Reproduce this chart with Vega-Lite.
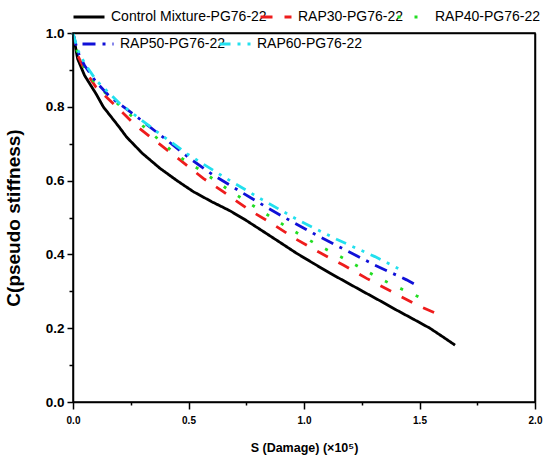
{
  "$schema": "https://vega.github.io/schema/vega-lite/v6.json",
  "width": 462,
  "height": 369,
  "autosize": "none",
  "padding": {"left": 73, "top": 33, "right": 15, "bottom": 57},
  "background": "white",
  "config": {"font": "Liberation Sans"},
  "data": {
    "values": [
      {"mix": "Control Mixture-PG76-22", "s": 0, "c": 1},
      {"mix": "Control Mixture-PG76-22", "s": 0.02, "c": 0.93},
      {"mix": "Control Mixture-PG76-22", "s": 0.05, "c": 0.885},
      {"mix": "Control Mixture-PG76-22", "s": 0.1, "c": 0.835},
      {"mix": "Control Mixture-PG76-22", "s": 0.131, "c": 0.8},
      {"mix": "Control Mixture-PG76-22", "s": 0.2, "c": 0.745},
      {"mix": "Control Mixture-PG76-22", "s": 0.232, "c": 0.718},
      {"mix": "Control Mixture-PG76-22", "s": 0.3, "c": 0.674},
      {"mix": "Control Mixture-PG76-22", "s": 0.377, "c": 0.633},
      {"mix": "Control Mixture-PG76-22", "s": 0.45, "c": 0.6},
      {"mix": "Control Mixture-PG76-22", "s": 0.521, "c": 0.57},
      {"mix": "Control Mixture-PG76-22", "s": 0.6, "c": 0.543},
      {"mix": "Control Mixture-PG76-22", "s": 0.68, "c": 0.518},
      {"mix": "Control Mixture-PG76-22", "s": 0.75, "c": 0.492},
      {"mix": "Control Mixture-PG76-22", "s": 0.824, "c": 0.462},
      {"mix": "Control Mixture-PG76-22", "s": 0.9, "c": 0.431},
      {"mix": "Control Mixture-PG76-22", "s": 0.968, "c": 0.403},
      {"mix": "Control Mixture-PG76-22", "s": 1.04, "c": 0.376},
      {"mix": "Control Mixture-PG76-22", "s": 1.113, "c": 0.349},
      {"mix": "Control Mixture-PG76-22", "s": 1.185, "c": 0.324},
      {"mix": "Control Mixture-PG76-22", "s": 1.257, "c": 0.299},
      {"mix": "Control Mixture-PG76-22", "s": 1.33, "c": 0.274},
      {"mix": "Control Mixture-PG76-22", "s": 1.401, "c": 0.249},
      {"mix": "Control Mixture-PG76-22", "s": 1.475, "c": 0.224},
      {"mix": "Control Mixture-PG76-22", "s": 1.545, "c": 0.2},
      {"mix": "Control Mixture-PG76-22", "s": 1.6, "c": 0.177},
      {"mix": "Control Mixture-PG76-22", "s": 1.654, "c": 0.154},

      {"mix": "RAP30-PG76-22", "s": 0, "c": 1},
      {"mix": "RAP30-PG76-22", "s": 0.02, "c": 0.94},
      {"mix": "RAP30-PG76-22", "s": 0.05, "c": 0.9},
      {"mix": "RAP30-PG76-22", "s": 0.1, "c": 0.853},
      {"mix": "RAP30-PG76-22", "s": 0.189, "c": 0.8},
      {"mix": "RAP30-PG76-22", "s": 0.27, "c": 0.75},
      {"mix": "RAP30-PG76-22", "s": 0.362, "c": 0.705},
      {"mix": "RAP30-PG76-22", "s": 0.463, "c": 0.656},
      {"mix": "RAP30-PG76-22", "s": 0.564, "c": 0.606},
      {"mix": "RAP30-PG76-22", "s": 0.65, "c": 0.57},
      {"mix": "RAP30-PG76-22", "s": 0.759, "c": 0.522},
      {"mix": "RAP30-PG76-22", "s": 0.86, "c": 0.484},
      {"mix": "RAP30-PG76-22", "s": 0.961, "c": 0.443},
      {"mix": "RAP30-PG76-22", "s": 1.062, "c": 0.407},
      {"mix": "RAP30-PG76-22", "s": 1.17, "c": 0.371},
      {"mix": "RAP30-PG76-22", "s": 1.271, "c": 0.335},
      {"mix": "RAP30-PG76-22", "s": 1.38, "c": 0.299},
      {"mix": "RAP30-PG76-22", "s": 1.488, "c": 0.263},
      {"mix": "RAP30-PG76-22", "s": 1.579, "c": 0.238},

      {"mix": "RAP40-PG76-22", "s": 0, "c": 1},
      {"mix": "RAP40-PG76-22", "s": 0.02, "c": 0.945},
      {"mix": "RAP40-PG76-22", "s": 0.05, "c": 0.905},
      {"mix": "RAP40-PG76-22", "s": 0.1, "c": 0.86},
      {"mix": "RAP40-PG76-22", "s": 0.232, "c": 0.787},
      {"mix": "RAP40-PG76-22", "s": 0.29, "c": 0.755},
      {"mix": "RAP40-PG76-22", "s": 0.449, "c": 0.669},
      {"mix": "RAP40-PG76-22", "s": 0.55, "c": 0.629},
      {"mix": "RAP40-PG76-22", "s": 0.68, "c": 0.572},
      {"mix": "RAP40-PG76-22", "s": 0.745, "c": 0.546},
      {"mix": "RAP40-PG76-22", "s": 0.867, "c": 0.497},
      {"mix": "RAP40-PG76-22", "s": 0.932, "c": 0.472},
      {"mix": "RAP40-PG76-22", "s": 1.055, "c": 0.427},
      {"mix": "RAP40-PG76-22", "s": 1.185, "c": 0.385},
      {"mix": "RAP40-PG76-22", "s": 1.25, "c": 0.362},
      {"mix": "RAP40-PG76-22", "s": 1.31, "c": 0.341},
      {"mix": "RAP40-PG76-22", "s": 1.372, "c": 0.321},
      {"mix": "RAP40-PG76-22", "s": 1.437, "c": 0.302},
      {"mix": "RAP40-PG76-22", "s": 1.502, "c": 0.283},

      {"mix": "RAP50-PG76-22", "s": 0, "c": 1},
      {"mix": "RAP50-PG76-22", "s": 0.02, "c": 0.95},
      {"mix": "RAP50-PG76-22", "s": 0.05, "c": 0.912},
      {"mix": "RAP50-PG76-22", "s": 0.1, "c": 0.867},
      {"mix": "RAP50-PG76-22", "s": 0.16, "c": 0.827},
      {"mix": "RAP50-PG76-22", "s": 0.276, "c": 0.773},
      {"mix": "RAP50-PG76-22", "s": 0.377, "c": 0.724},
      {"mix": "RAP50-PG76-22", "s": 0.506, "c": 0.66},
      {"mix": "RAP50-PG76-22", "s": 0.607, "c": 0.615},
      {"mix": "RAP50-PG76-22", "s": 0.773, "c": 0.552},
      {"mix": "RAP50-PG76-22", "s": 0.846, "c": 0.525},
      {"mix": "RAP50-PG76-22", "s": 0.91, "c": 0.502},
      {"mix": "RAP50-PG76-22", "s": 1.04, "c": 0.457},
      {"mix": "RAP50-PG76-22", "s": 1.17, "c": 0.415},
      {"mix": "RAP50-PG76-22", "s": 1.307, "c": 0.371},
      {"mix": "RAP50-PG76-22", "s": 1.444, "c": 0.331},
      {"mix": "RAP50-PG76-22", "s": 1.476, "c": 0.32},

      {"mix": "RAP60-PG76-22", "s": 0, "c": 1},
      {"mix": "RAP60-PG76-22", "s": 0.02, "c": 0.955},
      {"mix": "RAP60-PG76-22", "s": 0.05, "c": 0.918},
      {"mix": "RAP60-PG76-22", "s": 0.1, "c": 0.872},
      {"mix": "RAP60-PG76-22", "s": 0.2, "c": 0.81},
      {"mix": "RAP60-PG76-22", "s": 0.362, "c": 0.733},
      {"mix": "RAP60-PG76-22", "s": 0.5, "c": 0.67},
      {"mix": "RAP60-PG76-22", "s": 0.65, "c": 0.611},
      {"mix": "RAP60-PG76-22", "s": 0.817, "c": 0.549},
      {"mix": "RAP60-PG76-22", "s": 0.975, "c": 0.493},
      {"mix": "RAP60-PG76-22", "s": 1.141, "c": 0.441},
      {"mix": "RAP60-PG76-22", "s": 1.307, "c": 0.394},
      {"mix": "RAP60-PG76-22", "s": 1.408, "c": 0.362}
    ]
  },
  "layer": [
    {
      "encoding": {
        "x": {
          "field": "s",
          "type": "quantitative",
          "scale": {"domain": [0, 2], "nice": false},
          "axis": {
            "orient": "bottom",
            "title": "S (Damage) (×10⁵)",
            "titleFont": "Liberation Sans",
            "titleFontSize": 12.5,
            "titleFontWeight": "bold",
            "titleColor": "black",
            "titlePadding": 16,
            "values": [0, 0.25, 0.5, 0.75, 1, 1.25, 1.5, 1.75, 2],
            "labelExpr": "round(datum.value * 4) % 2 === 0 ? format(datum.value, '.1f') : ''",
            "labelFont": "Liberation Sans",
            "labelFontSize": 10,
            "labelFontWeight": "bold",
            "labelColor": "black",
            "labelPadding": 6,
            "labelFlush": false,
            "grid": false,
            "domainColor": "black",
            "domainWidth": 1.5,
            "tickColor": "black",
            "tickWidth": 1.5,
            "tickSize": {"condition": {"test": "round(datum.value * 4) % 2 === 0", "value": 7}, "value": 3}
          }
        },
        "y": {
          "field": "c",
          "type": "quantitative",
          "scale": {"domain": [0, 1], "nice": false},
          "axis": {
            "orient": "left",
            "title": "C(pseudo stiffness)",
            "titleFont": "Liberation Sans",
            "titleFontSize": 19,
            "titleFontWeight": "bold",
            "titleColor": "black",
            "titlePadding": 22,
            "values": [0, 0.1, 0.2, 0.3, 0.4, 0.5, 0.6, 0.7, 0.8, 0.9, 1],
            "labelExpr": "round(datum.value * 10) % 2 === 0 ? format(datum.value, '.1f') : ''",
            "labelFont": "Liberation Sans",
            "labelFontSize": 13.5,
            "labelFontWeight": "bold",
            "labelColor": "black",
            "labelPadding": 3,
            "labelFlush": false,
            "grid": false,
            "domainColor": "black",
            "domainWidth": 1.5,
            "tickColor": "black",
            "tickWidth": 1.5,
            "tickSize": {"condition": {"test": "round(datum.value * 10) % 2 === 0", "value": 6}, "value": 4}
          }
        }
      },
      "layer": [
        {
          "transform": [{"filter": {"field": "mix", "oneOf": ["Control Mixture-PG76-22", "RAP30-PG76-22", "RAP40-PG76-22"]}}],
          "mark": {"type": "line", "strokeWidth": 2.8},
          "encoding": {
            "color": {
              "field": "mix",
              "type": "nominal",
              "scale": {
                "domain": ["Control Mixture-PG76-22", "RAP30-PG76-22", "RAP40-PG76-22"],
                "range": ["#000000", "#ee1c1c", "#22dd22"]
              },
              "legend": {
                "title": null, "orient": "none", "legendX": -1, "legendY": -33,
                "direction": "horizontal", "columns": 3, "gridAlign": "none",
                "columnPadding": -13, "padding": 0,
                "symbolType": "stroke", "symbolSize": 961, "symbolStrokeWidth": 2.8,
                "labelFont": "Liberation Sans", "labelFontSize": 14, "labelColor": "black",
                "labelLimit": 300, "labelOffset": 5
              }
            },
            "strokeDash": {
              "field": "mix",
              "type": "nominal",
              "scale": {
                "domain": ["Control Mixture-PG76-22", "RAP30-PG76-22", "RAP40-PG76-22"],
                "range": [[1, 0], [12, 12], [3, 14]]
              },
              "legend": {
                "title": null, "orient": "none", "legendX": -1, "legendY": -33,
                "direction": "horizontal", "columns": 3, "gridAlign": "none",
                "columnPadding": -13, "padding": 0,
                "symbolType": "stroke", "symbolSize": 961, "symbolStrokeWidth": 2.8,
                "labelFont": "Liberation Sans", "labelFontSize": 14, "labelColor": "black",
                "labelLimit": 300, "labelOffset": 5
              }
            }
          }
        },
        {
          "transform": [{"filter": {"field": "mix", "oneOf": ["RAP50-PG76-22", "RAP60-PG76-22"]}}],
          "mark": {"type": "line", "strokeWidth": 2.8},
          "encoding": {
            "color": {
              "field": "mix",
              "type": "nominal",
              "scale": {
                "domain": ["RAP50-PG76-22", "RAP60-PG76-22"],
                "range": ["#1010d8", "#22e0ee"]
              },
              "legend": {
                "title": null, "orient": "none", "legendX": 8, "legendY": -6,
                "direction": "horizontal", "columns": 2, "gridAlign": "none",
                "columnPadding": -13, "padding": 0,
                "symbolType": "stroke", "symbolSize": 961, "symbolStrokeWidth": 2.8,
                "labelFont": "Liberation Sans", "labelFontSize": 14, "labelColor": "black",
                "labelLimit": 300, "labelOffset": 5
              }
            },
            "strokeDash": {
              "field": "mix",
              "type": "nominal",
              "scale": {
                "domain": ["RAP50-PG76-22", "RAP60-PG76-22"],
                "range": [[13, 7, 3, 7], [11, 7, 3, 7, 3, 7]]
              },
              "legend": {
                "title": null, "orient": "none", "legendX": 8, "legendY": -6,
                "direction": "horizontal", "columns": 2, "gridAlign": "none",
                "columnPadding": -13, "padding": 0,
                "symbolType": "stroke", "symbolSize": 961, "symbolStrokeWidth": 2.8,
                "labelFont": "Liberation Sans", "labelFontSize": 14, "labelColor": "black",
                "labelLimit": 300, "labelOffset": 5
              }
            }
          }
        }
      ],
      "resolve": {"scale": {"color": "independent", "strokeDash": "independent"}}
    },
    {
      "data": {"values": [{"x0": 0, "x1": 2, "y0": 0, "y1": 1}]},
      "mark": {"type": "rect", "fill": "#ffffff", "fillOpacity": 0, "stroke": "black", "strokeWidth": 1.5},
      "encoding": {
        "x": {
          "field": "x0",
          "type": "quantitative",
          "scale": {"domain": [0, 2], "nice": false},
          "axis": {"orient": "top", "title": null, "labels": false, "ticks": false, "grid": false, "domainColor": "black", "domainWidth": 1.5}
        },
        "x2": {"field": "x1"},
        "y": {
          "field": "y0",
          "type": "quantitative",
          "scale": {"domain": [0, 1], "nice": false},
          "axis": {"orient": "right", "title": null, "labels": false, "ticks": false, "grid": false, "domainColor": "black", "domainWidth": 1.5}
        },
        "y2": {"field": "y1"}
      }
    }
  ],
  "resolve": {
    "scale": {"x": "independent", "y": "independent"},
    "axis": {"x": "independent", "y": "independent"}
  }
}
